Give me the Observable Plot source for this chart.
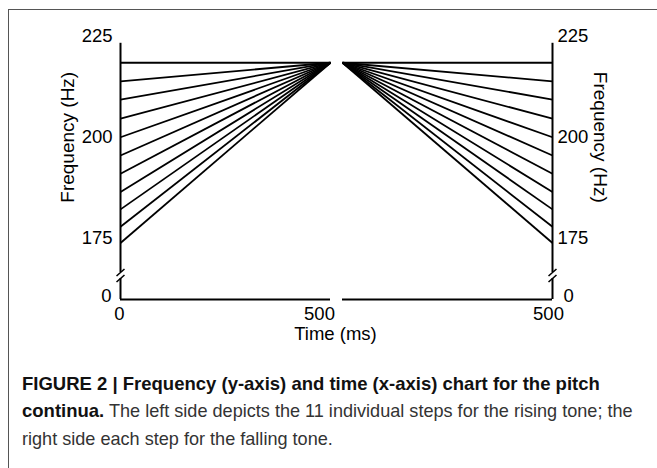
<!DOCTYPE html>
<html>
<head>
<meta charset="utf-8">
<script src="https://cdn.jsdelivr.net/npm/d3@7"></script>
<script src="https://cdn.jsdelivr.net/npm/@observablehq/plot@0.6"></script>
<style>
  html, body { margin: 0; padding: 0; background: #fff; overflow: hidden; }
  #page { position: relative; width: 657px; height: 468px; overflow: hidden; font-family: "Liberation Sans", Arial, sans-serif; }
  #frame { position: absolute; left: 8px; top: 9px; width: 700px; height: 500px; border-left: 1px solid #555; border-top: 1px solid #555; }
  .panel { position: absolute; left: 0; top: 0; }
  #caption { position: absolute; left: 22px; top: 370px; font-size: 18.5px; line-height: 27px; color: #333; white-space: nowrap; }
  #caption b { color: #111; }
  #caption span { font-size: 18.1px; }
</style>
</head>
<body>
<div id="page">
  <div id="frame"></div>
  <div id="left" class="panel"></div>
  <div id="right" class="panel"></div>
  <div id="caption"><b>FIGURE 2 | Frequency (y-axis) and time (x-axis) chart for the pitch</b><br><b>continua.</b><span> The left side depicts the 11 individual steps for the rising tone; the</span><br><span>right side each step for the falling tone.</span></div>
</div>
<script>
// ---- data ----
const steps = [1, 2, 3, 4, 5, 6, 7, 8, 9, 10, 11];
// Rising tone: onset frequency (Hz) at 0 ms for each step, all ending at the common offset
const risingOnsetHz = [218.4, 213.8, 209.3, 204.6, 200.0, 195.5, 191.0, 186.5, 182.2, 177.9, 173.9];
const risingOffsetHz = [218.4, 218.4, 218.4, 218.4, 218.4, 218.4, 218.4, 218.4, 218.4, 218.4, 218.4];
// Falling tone: common onset, offset frequency (Hz) at 500 ms for each step
const fallingOnsetHz = [218.4, 218.4, 218.4, 218.4, 218.4, 218.4, 218.4, 218.4, 218.4, 218.4, 218.4];
const fallingOffsetHz = [218.4, 213.8, 209.3, 204.6, 200.0, 195.5, 191.0, 186.5, 182.2, 177.9, 173.9];
const timeDomainMs = [0, 500];
const yTickValues = [175, 200, 225];
const yTickLabels = ["175", "200", "225"];
const zeroLabel = ["0"];
const xTickLeft = [0, 500];
const xTickRight = [500];

const rising = steps.map((s, i) => ({step: s, t0: 0, t1: 500, f0: risingOnsetHz[i], f1: risingOffsetHz[i]}));
const falling = steps.map((s, i) => ({step: s, t0: 0, t1: 500, f0: fallingOnsetHz[i], f1: fallingOffsetHz[i]}));
const yTicks = yTickValues.map((v, i) => ({v, label: yTickLabels[i]}));

// ---- broken y axis: compress 0–170 Hz into a short stub below the break ----
const breakHz = 170, squeeze = 0.0591;
const brokenY = v => v >= breakHz ? v : breakHz - (breakHz - v) * squeeze;
const W = 657, H = 350;
const axisTopHz = 223.2;
const breakUpperHz = 112.8, breakLowerHz = 87.7;
const slashDx = 9.5; // ms, ~4px
const FS = 18.5;
const font = "Liberation Sans, Arial, sans-serif";
const common = {
  width: W, height: H, margin: 0,
  style: {fontFamily: font, fontSize: FS + "px", background: "transparent", overflow: "visible", color: "black"},
  y: {transform: brokenY, range: [299, 35.5], axis: null}
};

function panel(data, xr, axisAt, side) {
  const ax = axisAt;
  const slashes = [
    {x1: ax - slashDx, y1: 98.2, x2: ax + slashDx, y2: 127.4},
    {x1: ax - slashDx, y1: 73.1, x2: ax + slashDx, y2: 102.3}
  ];
  const left = side === "left";
  const marks = [
    Plot.ruleY([0], {x1: 0, x2: 500, y: 0, stroke: "black", strokeWidth: 2}),
    Plot.ruleX([ax], {y1: axisTopHz, y2: breakUpperHz, stroke: "black", strokeWidth: 2}),
    Plot.ruleX([ax], {y1: breakLowerHz, y2: 0, stroke: "black", strokeWidth: 2}),
    Plot.link(slashes, {x1: "x1", y1: "y1", x2: "x2", y2: "y2", stroke: "black", strokeWidth: 1.6}),
    Plot.link(data, {x1: "t0", y1: "f0", x2: "t1", y2: "f1", stroke: "black", strokeWidth: 1.8}),
    Plot.text(yTicks, {x: ax, y: "v", text: "label", textAnchor: left ? "end" : "start", dx: left ? -8 : 5, fontSize: FS, fill: "black"}),
    Plot.text(zeroLabel, {x: ax, y: 0, text: d => d, textAnchor: left ? "end" : "start", dx: left ? -9 : 11, dy: -3, fontSize: FS, fill: "black"}),
    Plot.text(["Frequency (Hz)"], {x: ax, y: 200, text: d => d, rotate: left ? -90 : 90, dx: left ? -53 : 48, fontSize: FS + 0.5, fill: "black"})
  ];
  if (left) {
    marks.push(
      Plot.text(xTickLeft, {x: d => d, y: 0, text: d => String(d), dx: -1, dy: 15, fontSize: FS, fill: "black"}),
      Plot.text(["Time (ms)"], {x: 500, y: 0, text: d => d, dx: 5, dy: 35, fontSize: FS, fill: "black"})
    );
  } else {
    marks.push(
      Plot.text(xTickRight, {x: d => d, y: 0, text: d => String(d), dx: -4, dy: 15, fontSize: FS, fill: "black"})
    );
  }
  return Plot.plot({...common, x: {domain: timeDomainMs, range: xr, axis: null}, marks});
}

const leftPlot = panel(rising, [120, 330], 0, "left");
const rightPlot = panel(falling, [342, 552], 500, "right");
document.getElementById("left").append(leftPlot);
document.getElementById("right").append(rightPlot);
// the left panel's "500" sits a little inside the axis end, as in the reference
leftPlot.querySelectorAll("text").forEach(t => {
  if (t.textContent === "500") t.setAttribute("dx", "-10");
});
</script>
</body>
</html>
